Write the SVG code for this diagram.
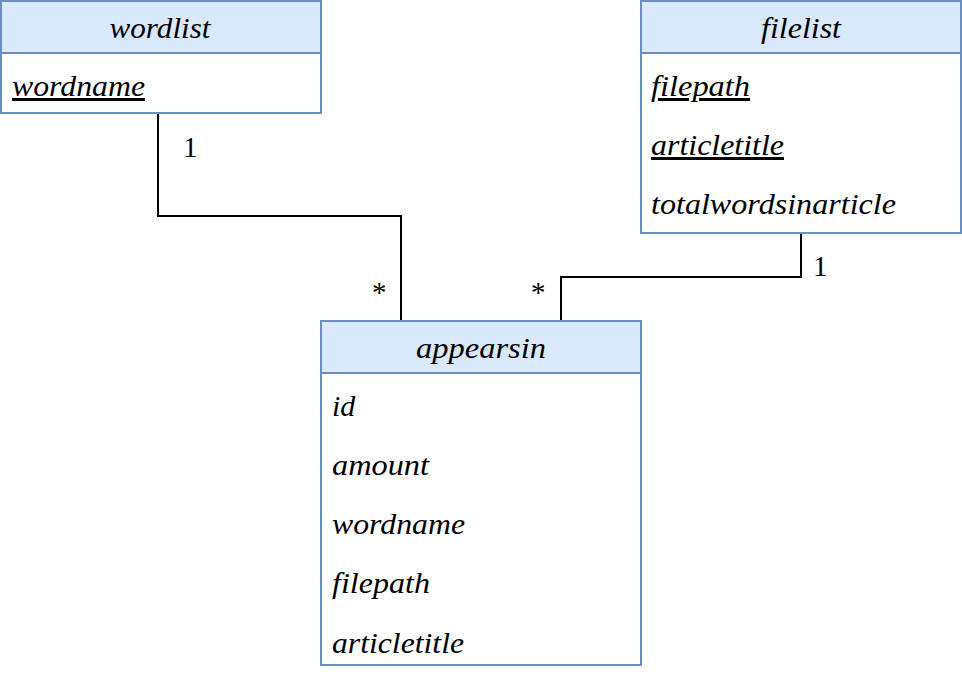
<svg xmlns="http://www.w3.org/2000/svg" width="962" height="680" viewBox="0 0 962 680">
<style>
.box{fill:#ffffff;stroke:#6c8ebf;stroke-width:2}
.hdr{fill:#dae8fc;stroke:#6c8ebf;stroke-width:2}
.c{text-anchor:middle}
.u{text-decoration:underline}
.edge{fill:none;stroke:#000000;stroke-width:2}
</style>
<g id="connectors">
<polyline class="edge" points="158,113 158,216 401,216 401,321"/>
<polyline class="edge" points="801,233 801,277 561,277 561,321"/>
<g font-family="Liberation Serif, DejaVu Serif, serif" font-size="29" fill="#000000">
<text x="183" y="157">1</text>
<text x="372" y="302">*</text>
<text x="531" y="302">*</text>
<text x="813" y="276">1</text>
</g>
</g>
<g font-family="Liberation Serif, DejaVu Serif, serif" font-style="italic" font-size="30" fill="#000000">
<g id="wordlist">
<rect class="box" x="1" y="1" width="320" height="112"/>
<rect class="hdr" x="1" y="1" width="320" height="52"/>
<text class="c" x="160" y="38" textLength="101" lengthAdjust="spacingAndGlyphs">wordlist</text>
<text class="u" x="12" y="96" textLength="133" lengthAdjust="spacingAndGlyphs">wordname</text>
</g>
<g id="filelist">
<rect class="box" x="641" y="1" width="320" height="232"/>
<rect class="hdr" x="641" y="1" width="320" height="52"/>
<text class="c" x="801" y="38" textLength="80" lengthAdjust="spacingAndGlyphs">filelist</text>
<text class="u" x="651" y="96" textLength="99" lengthAdjust="spacingAndGlyphs">filepath</text>
<text class="u" x="651" y="155" textLength="133" lengthAdjust="spacingAndGlyphs">articletitle</text>
<text x="651" y="214" textLength="245" lengthAdjust="spacingAndGlyphs">totalwordsinarticle</text>
</g>
<g id="appearsin">
<rect class="box" x="321" y="321" width="320" height="344"/>
<rect class="hdr" x="321" y="321" width="320" height="52"/>
<text class="c" x="481" y="358" textLength="130" lengthAdjust="spacingAndGlyphs">appearsin</text>
<text x="332" y="416">id</text>
<text x="332" y="475" textLength="97" lengthAdjust="spacingAndGlyphs">amount</text>
<text x="332" y="534" textLength="133" lengthAdjust="spacingAndGlyphs">wordname</text>
<text x="332" y="593" textLength="98" lengthAdjust="spacingAndGlyphs">filepath</text>
<text x="332" y="653" textLength="132" lengthAdjust="spacingAndGlyphs">articletitle</text>
</g>
</g>
</svg>
